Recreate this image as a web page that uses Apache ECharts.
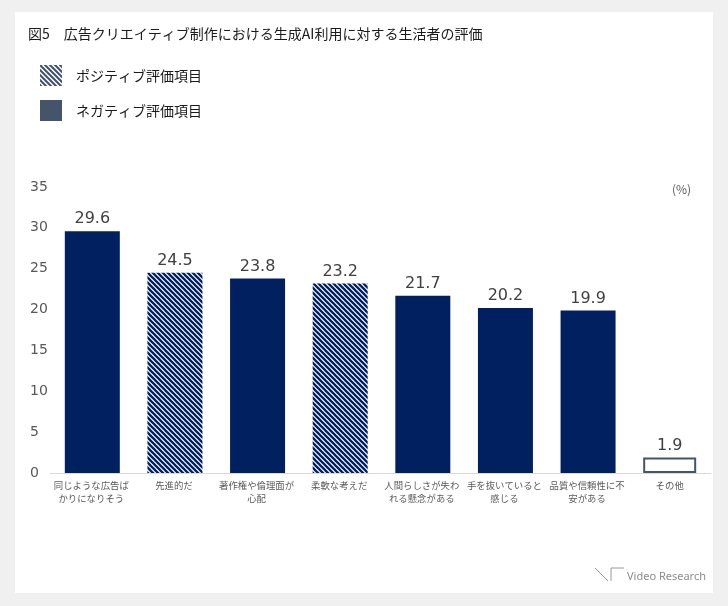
<!DOCTYPE html>
<html>
<head>
<meta charset="utf-8">
<script src="https://cdn.jsdelivr.net/npm/echarts@6/dist/echarts.min.js"></script>
<style>
html,body{margin:0;padding:0;background:#f0f0f0;}
#c{width:728px;height:606px;}
</style>
</head>
<body>
<div id="c"></div>
<script>
// ---- data ----
const titleText = '図5　広告クリエイティブ制作における生成AI利用に対する生活者の評価';
const categories = ['同じような広告ば\nかりになりそう','先進的だ','著作権や倫理面が\n心配','柔軟な考えだ','人間らしさが失わ\nれる懸念がある','手を抜いていると\n感じる','品質や信頼性に不\n安がある','その他'];
const values = [29.6, 24.5, 23.8, 23.2, 21.7, 20.2, 19.9, 1.9];
const kinds = ['neg','pos','neg','pos','neg','neg','neg','other'];
const seriesNames = {pos:'ポジティブ評価項目', neg:'ネガティブ評価項目', other:'その他'};
const yTicks = {min:0, max:35, interval:5};
const unitText = '(%)';
const logoText = 'Video Research';

// ---- styles ----
const NAVY = '#002060';
const SLATE = '#44546A';

function hatch(color, bg, lw){
  const s = 5;
  const cv = document.createElement('canvas');
  cv.width = s; cv.height = s;
  const ctx = cv.getContext('2d');
  ctx.fillStyle = bg; ctx.fillRect(0,0,s,s);
  ctx.strokeStyle = color; ctx.lineWidth = lw;
  ctx.beginPath();
  for (let k=-1;k<=1;k++){
    const o = k*s;
    ctx.moveTo(o-1, -1); ctx.lineTo(o+s+1, s+1);
  }
  ctx.stroke();
  return cv;
}
const barHatch = {image: hatch(NAVY,'#ffffff',2.3), repeat:'repeat'};
const legHatch = {image: hatch(SLATE,'#ffffff',2.1), repeat:'repeat'};

function pick(kind){ return values.map((v,i)=> kinds[i]===kind ? v : '-'); }

const labelCfg = {
  show:true, position:'top', distance:4,
  fontFamily:'DejaVu Sans', fontSize:16, color:'#404040',
  formatter: p => Number(p.value).toFixed(1)
};

const chart = echarts.init(document.getElementById('c'), null, {renderer:'canvas'});
chart.setOption({
  backgroundColor:'#f0f0f0',
  animation:false,
  graphic:[
    {type:'rect', z:-10, shape:{x:15,y:12,width:698,height:581}, style:{fill:'#ffffff'}},
    {type:'text', left:672, top:183, style:{text:unitText, fontSize:12, fill:'#595959', fontFamily:'Noto Sans CJK JP'}},
    {type:'polyline', shape:{points:[[595,568],[608,581]]}, style:{stroke:'#9a9a9a', lineWidth:1, fill:null}},
    {type:'polyline', shape:{points:[[611,581],[611,568],[624,568]]}, style:{stroke:'#9a9a9a', lineWidth:1, fill:null}},
    {type:'text', left:627, top:571, style:{text:logoText, fontSize:11, fill:'#8c8c8c', fontFamily:'Noto Sans'}}
  ],
  title:{
    text:titleText, left:23, top:22,
    textStyle:{fontFamily:'Noto Sans CJK JP', fontSize:14, fontWeight:'normal', color:'#1a1a1a'}
  },
  legend:{
    orient:'vertical', left:35, top:60, itemWidth:22, itemHeight:21, itemGap:14,
    icon:'rect', selectedMode:false,
    textStyle:{fontFamily:'Noto Sans CJK JP', fontSize:14, color:'#1a1a1a', padding:[0,0,0,9]},
    data:[
      {name:seriesNames.pos, itemStyle:{color:legHatch, borderWidth:0}},
      {name:seriesNames.neg, itemStyle:{color:SLATE, borderWidth:0}}
    ]
  },
  grid:{left:50, right:17, top:187, bottom:133, containLabel:false},
  xAxis:{
    type:'category', data:categories,
    axisLine:{lineStyle:{color:'#d9d9d9', width:1}},
    axisTick:{show:false},
    axisLabel:{interval:0, margin:6, fontFamily:'Noto Sans CJK JP', fontSize:9.4, lineHeight:13, color:'#595959'}
  },
  yAxis:{
    type:'value', min:yTicks.min, max:yTicks.max, interval:yTicks.interval,
    splitLine:{show:false}, axisLine:{show:false}, axisTick:{show:false},
    axisLabel:{align:'left', margin:20, fontFamily:'DejaVu Sans', fontSize:14, color:'#595959'}
  },
  series:[
    {name:seriesNames.neg, type:'bar', data:pick('neg'), barWidth:55, barGap:'-100%',
     itemStyle:{color:NAVY}, label:labelCfg},
    {name:seriesNames.pos, type:'bar', data:pick('pos'), barWidth:55, barGap:'-100%',
     itemStyle:{color:barHatch}, label:labelCfg},
    {name:seriesNames.other, type:'bar', data:pick('other'), barWidth:53, barGap:'-100%',
     itemStyle:{color:'#ffffff', borderColor:SLATE, borderWidth:2}, label:labelCfg}
  ]
});
</script>
</body>
</html>
